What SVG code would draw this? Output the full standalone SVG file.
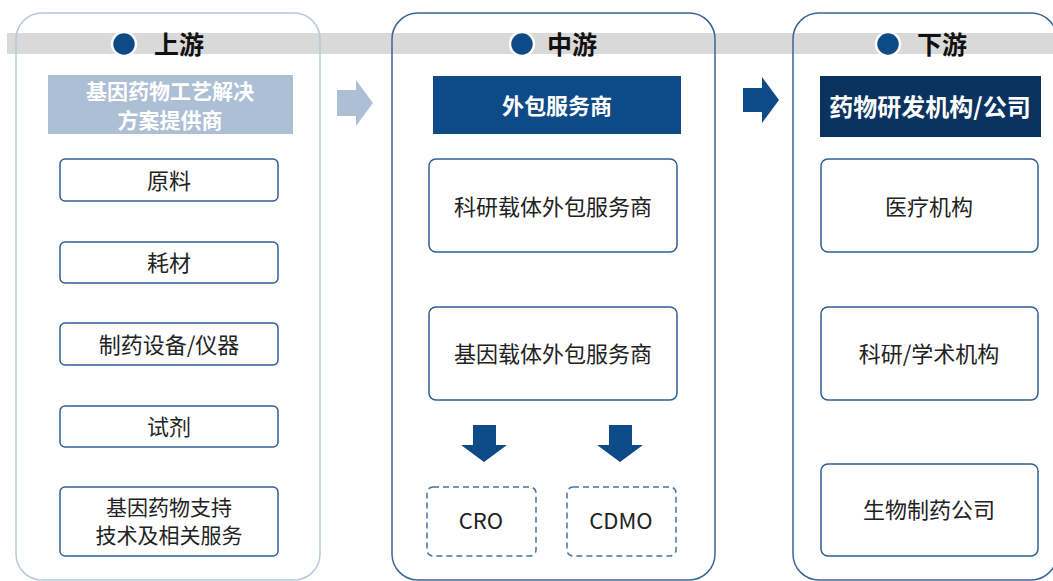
<svg xmlns="http://www.w3.org/2000/svg" width="1053" height="581" viewBox="0 0 1053 581">
<style>
text{font-family:"Noto Sans CJK SC","Liberation Sans",sans-serif;text-anchor:middle;dominant-baseline:central}
.title{font-size:25px;font-weight:bold;fill:#111;text-anchor:start}
.hdr{font-size:22px;font-weight:bold;fill:#fff}
.item{font-size:22px;fill:#222}
.mid{font-size:22px;fill:#222}
.box{fill:#fff;stroke:#2f5f93;stroke-width:1.5}
.dash{fill:#fff;stroke:#4a73a0;stroke-width:1.5;stroke-dasharray:6 4}
.dot{fill:#0e4a85;stroke:#fff;stroke-width:2.5}
</style>
<rect width="1053" height="581" fill="#fff"/>
<rect x="7" y="33" width="1046" height="21" fill="#d9d9d9"/>

<g id="upstream">
<rect x="16" y="13" width="304" height="567" rx="26" fill="none" stroke="#b8c8db" stroke-width="1.5"/>
<circle class="dot" cx="124" cy="44" r="12"/>
<text class="title" x="154" y="43">上游</text>
<rect x="48" y="75" width="245" height="59" fill="#adbfd4"/>
<text class="hdr" style="font-size:21px"><tspan x="170" y="90">基因药物工艺解决</tspan><tspan x="170" y="118.5">方案提供商</tspan></text>
</g>
<g id="up-1"><rect class="box" x="60" y="159" width="218" height="42" rx="5"/><text class="item" x="169" y="179">原料</text></g>
<g id="up-2"><rect class="box" x="60" y="242" width="218" height="41" rx="5"/><text class="item" x="169" y="261">耗材</text></g>
<g id="up-3"><rect class="box" x="60" y="323" width="218" height="42" rx="5"/><text class="item" x="169" y="343">制药设备/仪器</text></g>
<g id="up-4"><rect class="box" x="60" y="406" width="218" height="41" rx="5"/><text class="item" x="169" y="425">试剂</text></g>
<g id="up-5"><rect class="box" x="60" y="487" width="218" height="69" rx="5"/><text class="item" style="font-size:21px"><tspan x="169" y="506">基因药物支持</tspan><tspan x="169" y="534">技术及相关服务</tspan></text></g>

<g id="midstream">
<rect x="392" y="13" width="323" height="567" rx="26" fill="none" stroke="#3a6595" stroke-width="1.5"/>
<circle class="dot" cx="522" cy="44" r="12"/>
<text class="title" x="547" y="43">中游</text>
<rect x="433" y="76" width="248" height="58" fill="#0e4a85"/>
<text class="hdr" x="557" y="104">外包服务商</text>
</g>
<g id="mid-1"><rect class="box" x="429" y="159" width="248" height="93" rx="7"/><text class="mid" x="553" y="205">科研载体外包服务商</text></g>
<g id="mid-2"><rect class="box" x="429" y="307" width="248" height="93" rx="7"/><text class="mid" x="553" y="352">基因载体外包服务商</text></g>
<g id="cro"><rect class="dash" x="427" y="487" width="109" height="69" rx="6"/><text class="mid" x="481" y="519">CRO</text></g>
<g id="cdmo"><rect class="dash" x="567" y="487" width="109" height="69" rx="6"/><text class="mid" x="621" y="519">CDMO</text></g>

<g id="downstream">
<rect x="793" y="13" width="264" height="567" rx="26" fill="none" stroke="#3a6595" stroke-width="1.5"/>
<circle class="dot" cx="888" cy="44" r="12"/>
<text class="title" x="917" y="43">下游</text>
<rect x="820" y="76" width="221" height="61" fill="#0a3360"/>
<text class="hdr" x="930" y="105" style="font-size:24px">药物研发机构/公司</text>
</g>
<g id="down-1"><rect class="box" x="821" y="159" width="217" height="93" rx="7"/><text class="mid" x="929" y="205">医疗机构</text></g>
<g id="down-2"><rect class="box" x="821" y="307" width="217" height="93" rx="7"/><text class="mid" x="929" y="352">科研/学术机构</text></g>
<g id="down-3"><rect class="box" x="821" y="464" width="217" height="92" rx="7"/><text class="mid" x="929" y="508">生物制药公司</text></g>

<g id="connectors">
<polygon points="337,90 356,90 356,80 373,103 356,126 356,116 337,116" fill="#adbfd4"/>
<polygon points="743,88 762,88 762,77 779,100 762,123 762,112 743,112" fill="#0e4a85"/>
<polygon points="473,425 496,425 496,445 507,445 484,462 461,445 473,445" fill="#0e4a85"/>
<polygon points="609,425 632,425 632,445 643,445 620,462 597,445 609,445" fill="#0e4a85"/>
</g>
</svg>
